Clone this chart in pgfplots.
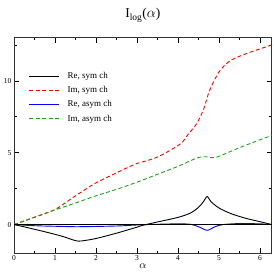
\documentclass[border=0pt]{standalone}
\usepackage{pgfplots}
\pgfplotsset{compat=1.18}
\usepackage{fontspec}
\setmainfont{Liberation Serif}
\definecolor{ggreen}{RGB}{30,160,30}
\begin{document}
\begin{tikzpicture}
\begin{axis}[
  scale only axis,
  width=257.7pt, height=215.6pt,
  xmin=0, xmax=6.2832, ymin=-2, ymax=13,
  xtick={0,1,2,3,4,5,6}, minor xtick={0.5,1.5,2.5,3.5,4.5,5.5},
  ytick={0,5,10}, minor ytick={2.5,7.5,12.5},
  tick align=inside,
  major tick length=5pt, minor tick length=2.5pt,
  tick style={black, line width=0.6pt},
  axis line style={line width=1pt, black!80},
  ticklabel style={font=\fontsize{7.5}{8}\selectfont},
  /pgf/number format/assume math mode=true,
  xticklabel style={yshift=1pt},
  yticklabel style={xshift=1pt},
  xlabel={$\alpha$}, xlabel style={yshift=4pt, font=\fontsize{11}{11}\selectfont},
  title={I\textsubscript{log}($\alpha$)}, title style={font=\fontsize{13.5}{13.5}\selectfont, yshift=6pt},
  legend style={draw=none, fill=none, at={(0.045,0.86)}, anchor=north west, font=\fontsize{9}{10}\selectfont, row sep=2.5pt,
    /tikz/every odd column/.append style={column sep=6pt}},
  legend cell align=left,
  legend image code/.code={\draw[#1] (0pt,0pt) -- (30pt,0pt);},
  every axis plot/.append style={line width=0.9pt},
]
\addplot[black, no markers, smooth] coordinates {
(0,0) (0.25,-0.16) (0.5,-0.33) (0.75,-0.5) (1,-0.68) (1.25,-0.88) (1.45,-1.08) (1.57,-1.15) (1.7,-1.12) (2,-0.97) (2.5,-0.6) (3,-0.18) (3.14,-0.05) (3.5,0.18) (4,0.5) (4.3,0.8) (4.5,1.2) (4.62,1.6) (4.71,1.95) (4.8,1.6) (5,1.15) (5.3,0.75) (5.67,0.42) (6,0.2) (6.2832,0)};
\addlegendentry{Re, sym ch}
\addplot[red, no markers, dash pattern=on 4pt off 2.5pt, smooth] coordinates {
(0,0) (0.5,0.5) (1,1.05) (1.5,2.0) (2,2.9) (2.5,3.6) (2.83,4.05) (3,4.25) (3.5,4.7) (4.05,5.6) (4.25,6.3) (4.45,7.0) (4.62,8.0) (4.74,9.1) (4.86,9.9) (5.02,10.7) (5.27,11.4) (5.67,11.9) (6.08,12.3) (6.2832,12.5)};
\addlegendentry{Im, sym ch}
\addplot[blue, no markers, smooth] coordinates {
(0,0) (0.5,-0.08) (1,-0.12) (1.57,-0.15) (2.5,-0.1) (3,-0.03) (3.5,0.02) (4,0.05) (4.3,0.02) (4.5,-0.15) (4.71,-0.4) (4.9,-0.15) (5.1,0.0) (5.5,0.07) (6,0.05) (6.2832,0)};
\addlegendentry{Re, asym ch}
\addplot[ggreen, no markers, dash pattern=on 4pt off 2.5pt, smooth] coordinates {
(0,0) (0.5,0.52) (1,1.02) (1.5,1.5) (2,2.0) (2.5,2.45) (3,2.95) (3.5,3.5) (4,4.05) (4.45,4.62) (4.65,4.72) (4.85,4.65) (5,4.75) (5.5,5.35) (6,5.9) (6.2832,6.2)};
\addlegendentry{Im, asym ch}
\draw[black, line width=0.5pt] (axis cs:0,0) -- (axis cs:6.2832,0);
\coordinate (sw) at (rel axis cs:0,0);
\end{axis}
\pgfresetboundingbox
\path ([xshift=-14pt,yshift=-19.7pt]sw) rectangle ++(273pt,273pt);
\end{tikzpicture}
\end{document}
